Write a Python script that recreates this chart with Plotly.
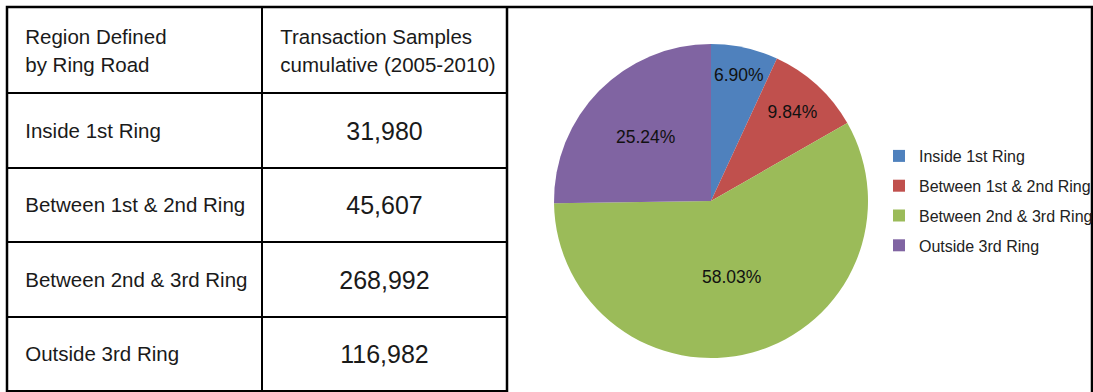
import plotly.graph_objects as go

# Transaction samples by ring-road region, 2005-2010
regions = [
    "Inside 1st Ring",
    "Between 1st & 2nd Ring",
    "Between 2nd & 3rd Ring",
    "Outside 3rd Ring",
]
samples = [31980, 45607, 268992, 116982]
header_labels = [
    "Region Defined<br>by Ring Road",
    "Transaction Samples<br>cumulative (2005-2010)",
]
slice_colors = ["#4F81BD", "#C0504D", "#9BBB59", "#8064A2"]

W, H = 1093, 392
FONT = "Arial, 'Liberation Sans', sans-serif"
INDENT = "\u2002"  # en space: extra left inset inside table cells


def px_x(v):
    return v / W


def px_y(v):
    # pixel row measured from the top -> paper coordinate
    return 1 - v / H


def sized(text, size):
    return f'<span style="font-size:{size}px">{text}</span>'


def header_cell(text):
    # hairline spacer first, then the indented header lines
    lines = text.split("<br>")
    body = "<br>".join(sized(INDENT + ln, 20.5) for ln in lines)
    return sized(INDENT, 1) + "<br>" + body


# body cells get a spacer first line (cell font sets the line pitch)
region_cells = [INDENT + "<br>" + sized(INDENT + r, 20.5) for r in regions]
sample_cells = [INDENT + "<br>" + sized(f"{v:,}", 25) for v in samples]

fig = go.Figure()

# Summary table on the left
fig.add_trace(go.Table(
    domain=dict(x=[px_x(7), px_x(507)], y=[0, px_y(7)]),
    columnwidth=[255, 245],
    header=dict(
        values=[header_cell(h) for h in header_labels],
        align=["left", "left"],
        height=86,
        font=dict(family=FONT, size=21.5, color="#1a1a1a"),
        fill=dict(color="white"),
        line=dict(color="black", width=2),
    ),
    cells=dict(
        values=[region_cells, sample_cells],
        align=["left", "center"],
        height=74.5,
        font=dict(family=FONT, size=[16.6, 17.4], color="#1a1a1a"),
        fill=dict(color="white"),
        line=dict(color="black", width=2),
    ),
))

# Share of samples per region
fig.add_trace(go.Pie(
    labels=regions,
    values=samples,
    sort=False,
    direction="clockwise",
    rotation=0,
    marker=dict(colors=slice_colors, line=dict(width=0)),
    texttemplate="%{percent:.2%}",
    textposition="inside",
    insidetextorientation="horizontal",
    textfont=dict(family=FONT, size=17.5, color="#111111"),
    domain=dict(x=[px_x(554), px_x(868)], y=[px_y(358), px_y(44)]),
    showlegend=False,
    hoverinfo="label+value+percent",
))

# Legend entries (square swatches), one group each for spacing
for name, col in zip(regions, slice_colors):
    fig.add_trace(go.Scatter(
        x=[None], y=[None], mode="markers", name=name,
        legendgroup=name,
        marker=dict(symbol="square", size=11, color=col),
    ))

fig.update_layout(
    width=W, height=H,
    margin=dict(l=0, r=0, t=0, b=0, autoexpand=False),
    paper_bgcolor="white",
    plot_bgcolor="white",
    xaxis=dict(visible=False),
    yaxis=dict(visible=False),
    uniformtext=dict(minsize=17.5, mode="show"),
    showlegend=True,
    legend=dict(
        x=px_x(879), y=px_y(139), xanchor="left", yanchor="top",
        font=dict(family=FONT, size=16, color="#222222"),
        tracegroupgap=6,
        itemsizing="constant",
        bgcolor="rgba(0,0,0,0)",
    ),
    shapes=[
        dict(type="rect", xref="paper", yref="paper",
             x0=px_x(7), x1=px_x(1092), y0=-0.1, y1=px_y(7),
             line=dict(color="black", width=2.5), fillcolor="rgba(0,0,0,0)"),
        dict(type="line", xref="paper", yref="paper",
             x0=px_x(507), x1=px_x(507), y0=-0.1, y1=px_y(7),
             line=dict(color="black", width=2.5)),
    ],
)

fig.write_html("out.html")
